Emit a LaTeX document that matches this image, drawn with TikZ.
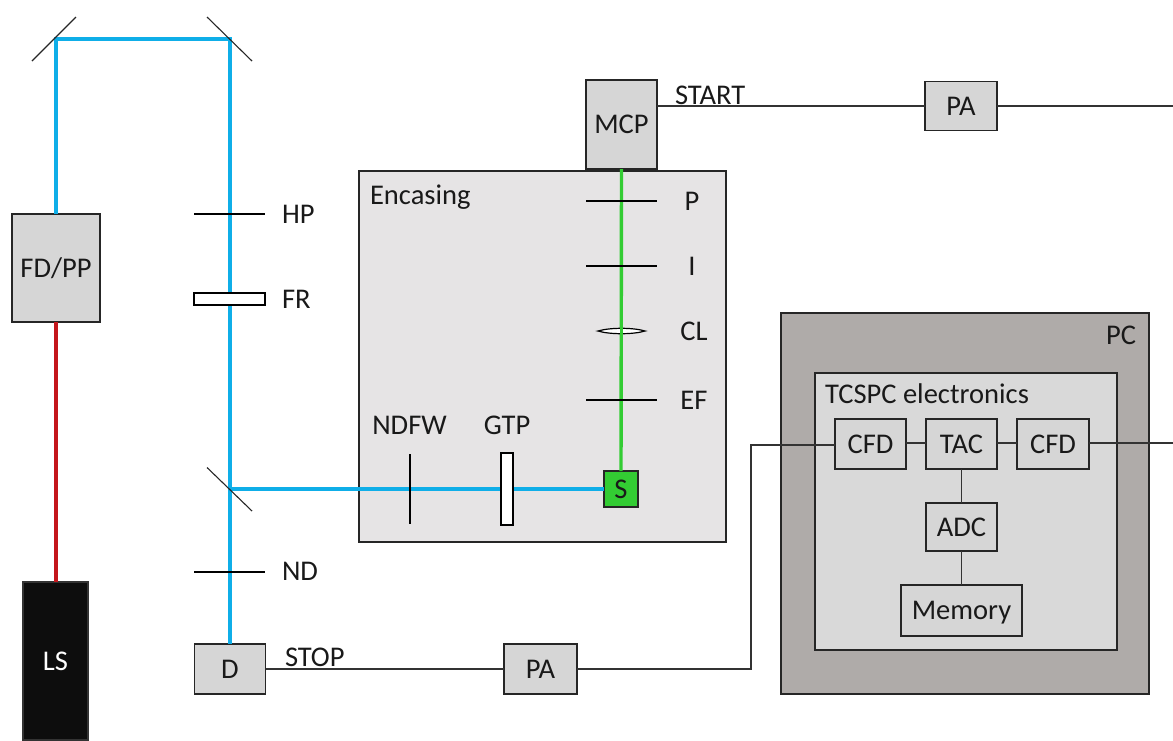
\documentclass[tikz,border=0pt]{standalone}
\usepackage{fontspec}
\setmainfont{Carlito}
\definecolor{beam}{HTML}{0FAEE8}
\definecolor{redbeam}{HTML}{C4161C}
\definecolor{greenbeam}{HTML}{33CC33}
\definecolor{boxgrey}{HTML}{D6D6D6}
\definecolor{encase}{HTML}{E6E4E5}
\definecolor{pcgrey}{HTML}{AFABA9}
\definecolor{tcgrey}{HTML}{D9D9D9}
\definecolor{wire}{HTML}{333333}
\newlength{\pxu}\setlength{\pxu}{0.75pt}
\tikzset{
  x=0.75pt,y=-0.75pt,
  blackbox/.style={draw=black!85,line width=1.4\pxu,fill=boxgrey,inner sep=0pt,outer sep=0pt,text=black!90},
  bw/.style={minimum width=#1*\pxu},
  bh/.style={minimum height=#1*\pxu},
  lbl/.style={inner sep=0pt,outer sep=0pt,text=black!90},
  lightbeam/.style={draw=beam,line width=3.4\pxu},
  greenl/.style={draw=greenbeam,line width=3.4\pxu},
  wirel/.style={draw=wire,line width=1.1\pxu},
  filterl/.style={draw=black,line width=2\pxu},
  mirrorl/.style={draw=black!85,line width=1.1\pxu},
  plate/.style={draw=black,line width=2\pxu,fill=white},
}
\begin{document}
\begin{tikzpicture}[font=\fontsize{21.4}{24}\selectfont]
\useasboundingbox (0,0) rectangle (1173,740);
% enclosures
\node[blackbox,fill=encase,line width=2\pxu,bw=367,bh=371] (enc) at (542.5,356.5) {};
\node[blackbox,fill=pcgrey,line width=2.4\pxu,bw=368,bh=381] (pc) at (965,503.5) {};
\node[blackbox,fill=tcgrey,line width=2.4\pxu,bw=302,bh=277] (tc) at (966,511.5) {};
% boxes
\node[blackbox,bw=88,bh=108] (fd) at (56,268) {FD/PP};
\node[blackbox,fill=black!95,draw=black!80,text=white,bw=65,bh=158] (ls) at (55.5,661) {LS};
\node[blackbox,bw=71.5,bh=50] (d) at (230,669) {D};
\node[blackbox,bw=73,bh=50] (pa2) at (540.5,669) {PA};
\node[blackbox,bw=71,bh=89] (mcp) at (621.5,124.5) {MCP};
\node[blackbox,bw=72,bh=49] (pa1) at (961,106) {PA};
\node[blackbox,fill=greenbeam,bw=34,bh=36] (s) at (621,489) {S};
\node[blackbox,bw=71,bh=50] (cfda) at (870.5,444) {CFD};
\node[blackbox,bw=71,bh=50] (tac) at (961.5,444) {TAC};
\node[blackbox,bw=72,bh=50] (cfdb) at (1053,444) {CFD};
\node[blackbox,bw=71,bh=48] (adc) at (961.5,527) {ADC};
\node[blackbox,bw=121,bh=51,text depth=0pt] (mem) at (961.5,610.5) {Memory};
% free points of the beam path
\coordinate (mirA) at (56,39);
\coordinate (mirB) at (230,39);
\coordinate (split) at (230,489);
\coordinate (eL) at (1173,106);
\coordinate (eR) at (1173,443);
\coordinate (bend) at (751,445);
% beams
\draw[draw=redbeam,line width=3.4\pxu] (ls.north -| fd.south) -- (fd.south);
\draw[lightbeam] (fd.north) -- (mirA) -- (mirB) -- (d.north);
\draw[lightbeam] (split) -- (s.west);
\draw[greenl] (s.north) -- (mcp.south);
% mirrors
\draw[mirrorl] (32,61) -- (76,17);
\draw[mirrorl] (207,17) -- (252,61);
\draw[mirrorl] (207,467.5) -- (252,511);
% filters
\draw[filterl] (194,214) -- (265,214);
\node[lbl,anchor=west] (hp) at (282,214) {HP};
\node[plate,minimum width=71*\pxu,minimum height=12*\pxu,inner sep=0pt] (fr) at (229.5,299) {};
\node[lbl,anchor=west] (frl) at (282,299) {FR};
\draw[filterl] (194,571.5) -- (265,571.5);
\node[lbl,anchor=west] (nd) at (282,571.5) {ND};
\draw[filterl] (586,201) -- (657,201);
\node[lbl] (p) at (692,201) {P};
\draw[filterl] (586,266) -- (657,266);
\node[lbl] (i) at (692,266) {I};
\draw[line width=1.2\pxu,draw=black,fill=white] (598,331) .. controls (610,327.4) and (633,327.4) .. (645,331) .. controls (633,334.6) and (610,334.6) .. (598,331) -- cycle;
\draw[greenl] (621.5,327) -- (621.5,335);
\node[lbl] (cl) at (694,331) {CL};
\draw[filterl] (586,399.5) -- (657,399.5);
\node[lbl] (ef) at (694,400) {EF};
\draw[filterl] (410,454) -- (410,524);
\node[lbl] (ndfw) at (409.5,425.5) {NDFW};
\node[plate,minimum width=12.5*\pxu,minimum height=72*\pxu,inner sep=0pt] (gtp) at (507,489) {};
\node[lbl] (gtpl) at (507,425.5) {GTP};
% box titles
\node[lbl,anchor=west,text depth=0pt] (enct) at (370,195) {Encasing};
\node[lbl,anchor=east] (pct) at (1136,335.5) {PC};
\node[lbl,anchor=west] (tct) at (825,393.5) {TCSPC electronics};
\node[lbl,anchor=west] (startl) at (675,95) {START};
\node[lbl,anchor=west] (stopl) at (285,657) {STOP};
% wires
\draw[wirel] (mcp.east |- pa1.west) -- (pa1.west);
\draw[wirel] (pa1.east) -- (eL);
\draw[wirel] (d.east) -- (pa2.west);
\draw[wirel] (pa2.east) -| (bend) -- (bend -| cfda.west);
\draw[wirel] ([yshift=0.75pt]cfda.east) -- ([yshift=0.75pt]tac.west);
\draw[wirel] ([yshift=0.75pt]tac.east) -- ([yshift=0.75pt]cfdb.west);
\draw[wirel] (eR -| cfdb.east) -- (eR);
\draw[wirel] (tac.south) -- (adc.north);
\draw[wirel] (adc.south) -- (mem.north);
\end{tikzpicture}
\end{document}
